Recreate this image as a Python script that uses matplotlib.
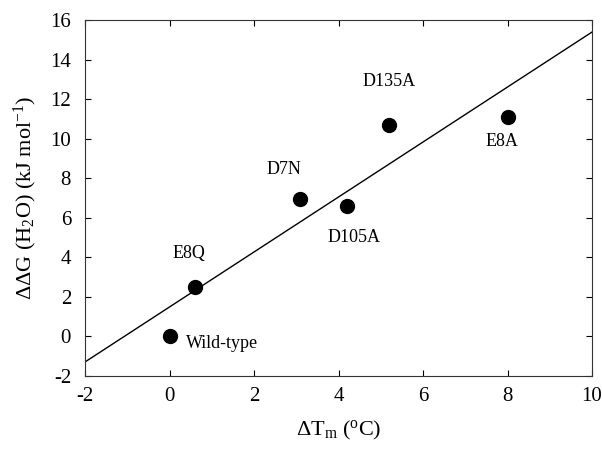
import numpy as np
import matplotlib
matplotlib.use("Agg")
import matplotlib.pyplot as plt

plt.rcParams['font.family'] = ['Liberation Serif', 'DejaVu Serif']
plt.rcParams['mathtext.fontset'] = 'custom'
plt.rcParams['mathtext.rm'] = 'Liberation Serif'
plt.rcParams['mathtext.it'] = 'Liberation Serif:italic'
plt.rcParams['axes.unicode_minus'] = False

# data
names = ["Wild-type", "E8Q", "D7N", "D105A", "D135A", "E8A"]
dTm = [0.0, 0.6, 3.1, 4.2, 5.2, 8.0]
ddG = [0.0, 2.5, 6.95, 6.6, 10.7, 11.1]
fit_slope = 1.39
fit_intercept = 1.49

# label offsets in points, relative to each point
offsets = [(12, -5), (-4, 24), (-12, 21), (5, -23), (0, 31), (-4, -18)]
aligns = ["left", "center", "center", "center", "center", "center"]

fig = plt.figure(figsize=(6.02, 4.5), dpi=100)
ax = fig.add_axes([0.1412, 0.1644, 0.8422, 0.7912])

xl = np.array([-2, 10])
ax.plot(xl, fit_slope * xl + fit_intercept, color='black', lw=1.0)
ax.plot(dTm, ddG, 'o', color='black', ms=10)

for n, x, y, off, ha in zip(names, dTm, ddG, offsets, aligns):
    ax.annotate(n, (x, y), xytext=off, textcoords='offset points',
                ha=ha, va='center', fontsize=13)

ax.set_xlim(-2, 10)
ax.set_ylim(-2, 16)
ax.set_xticks(np.arange(-2, 11, 2))
ax.set_yticks(np.arange(-2, 17, 2))
ax.tick_params(direction='in', top=True, right=True, length=4.5, width=0.8,
               labelsize=15)
ax.tick_params(axis='x', pad=8)
ax.tick_params(axis='y', pad=10)
for s in ax.spines.values():
    s.set_linewidth(0.8)
    s.set_color('#333333')

ax.set_xlabel(r'$\Delta$T$_\mathrm{m}$ ($^\mathrm{o}$C)', fontsize=16, labelpad=9)
ax.set_ylabel(r'$\Delta\Delta$G (H$_2$O) (kJ mol$^{-1}$)', fontsize=16, labelpad=8)

fig.savefig('out.png', dpi=100)
